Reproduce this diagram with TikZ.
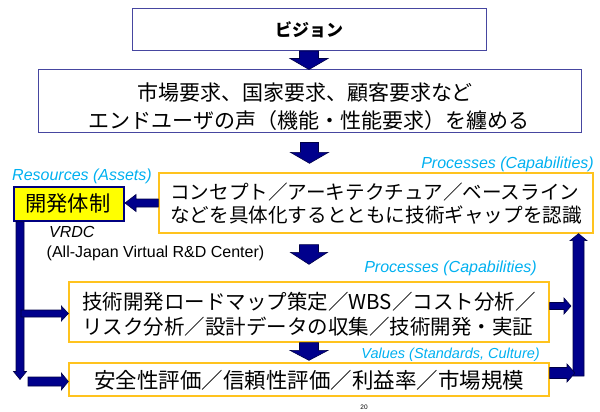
\documentclass[tikz,border=0pt]{standalone}
\usepackage{fontspec}
\setmainfont{Liberation Sans}
\newfontfamily\jp{Noto Sans CJK JP}
\usetikzlibrary{calc}
\definecolor{navyfill}{RGB}{0,0,140}
\definecolor{navyline}{RGB}{0,0,70}
\definecolor{boxblue}{RGB}{70,70,160}
\definecolor{goldline}{RGB}{255,195,30}
\definecolor{skyblue}{RGB}{0,176,240}
\definecolor{yboxfill}{RGB}{255,255,0}
\definecolor{yboxline}{RGB}{0,0,128}
\tikzset{
  blockarrow/.style={fill=navyfill,draw=navyline,line width=0.6pt,line join=miter},
  bluebox/.style={draw=boxblue,line width=1pt,fill=white,inner sep=0pt},
  goldbox/.style={draw=goldline,line width=1.3pt,fill=white,inner sep=0pt},
  ylwbox/.style={draw=yboxline,fill=yboxfill,line width=2pt,inner sep=0pt},
  jptext/.style={inner sep=0pt,font=\jp},
  cyanlabel/.style={inner sep=0pt,text=skyblue,font=\fontsize{16pt}{16pt}\selectfont\itshape},
}
\newcommand\blkdown[5]{\filldraw[blockarrow] let \p1=#1, \p2=#2 in
  (\x1-#3,\y1) -- (\x1-#3,\y2+#5) -- (\x1-#4,\y2+#5) -- (\x1,\y2) -- (\x1+#4,\y2+#5) -- (\x1+#3,\y2+#5) -- (\x1+#3,\y1) -- cycle;}
\newcommand\blkup[5]{\filldraw[blockarrow] let \p1=#1, \p2=#2 in
  (\x1-#3,\y1) -- (\x1-#3,\y2-#5) -- (\x1-#4,\y2-#5) -- (\x1,\y2) -- (\x1+#4,\y2-#5) -- (\x1+#3,\y2-#5) -- (\x1+#3,\y1) -- cycle;}
\newcommand\blkright[5]{\filldraw[blockarrow] let \p1=#1, \p2=#2 in
  (\x1,\y1+#3) -- (\x2-#5,\y1+#3) -- (\x2-#5,\y1+#4) -- (\x2,\y1) -- (\x2-#5,\y1-#4) -- (\x2-#5,\y1-#3) -- (\x1,\y1-#3) -- cycle;}
\newcommand\blkleft[5]{\filldraw[blockarrow] let \p1=#1, \p2=#2 in
  (\x1,\y1+#3) -- (\x2+#5,\y1+#3) -- (\x2+#5,\y1+#4) -- (\x2,\y1) -- (\x2+#5,\y1-#4) -- (\x2+#5,\y1-#3) -- (\x1,\y1-#3) -- cycle;}
\begin{document}
\begin{tikzpicture}[x=1pt,y=-1pt]
\useasboundingbox (0,0) rectangle (600,412);
% boxes
\node[bluebox,minimum width=354pt,minimum height=42pt] (b1) at (309,29.5) {};
\node[bluebox,minimum width=543pt,minimum height=62pt] (b2) at (309.5,101) {};
\node[goldbox,minimum width=434pt,minimum height=60pt] (b3) at (376,203) {};
\node[ylwbox,minimum width=110pt,minimum height=34pt] (yb) at (69,203.7) {};
\node[goldbox,minimum width=480pt,minimum height=60pt] (b4) at (309,312) {};
\node[goldbox,minimum width=480pt,minimum height=33pt] (b5) at (309,379.5) {};
\coordinate (rb) at (578.5,376);
% texts
\node[jptext,font=\jp\bfseries\fontsize{17pt}{17pt}\selectfont] (t1) at (309,30) {ビジョン};
\node[jptext,font=\jp\fontsize{21pt}{21pt}\selectfont] (t2a) at (305,93) {市場要求、国家要求、顧客要求など};
\node[jptext,font=\jp\fontsize{21pt}{21pt}\selectfont] (t2b) at (309,121) {エンドユーザの声（機能・性能要求）を纏める};
\node[jptext,anchor=west,font=\jp\fontsize{19.6pt}{19.6pt}\selectfont] (t3a) at (170,192.5) {コンセプト／アーキテクチュア／ベースライン};
\node[jptext,anchor=west,font=\jp\fontsize{19.6pt}{19.6pt}\selectfont] (t3b) at (170,215.5) {などを具体化するとともに技術ギャップを認識};
\node[jptext,font=\jp\fontsize{21.3pt}{21.3pt}\selectfont] (ty) at (68,203.5) {開発体制};
\node[jptext,anchor=west,font=\jp\fontsize{20.5pt}{20.5pt}\selectfont] (t4a) at (82,301.3) {技術開発ロードマップ策定／WBS／コスト分析／};
\node[jptext,anchor=west,font=\jp\fontsize{20.5pt}{20.5pt}\selectfont] (t4b) at (82,326.5) {リスク分析／設計データの収集／技術開発・実証};
\node[jptext,font=\jp\fontsize{21.5pt}{21.5pt}\selectfont] (t5) at (309,380.3) {安全性評価／信頼性評価／利益率／市場規模};
% labels
\node[cyanlabel,anchor=base west] (lr) at (12,180.7) {Resources (Assets)};
\node[cyanlabel,anchor=base east] (lp1) at (594,168.3) {Processes (Capabilities)};
\node[cyanlabel,anchor=base east] (lp2) at (537,272.3) {Processes (Capabilities)};
\node[cyanlabel,anchor=base east,font=\fontsize{14.5pt}{14.5pt}\selectfont\itshape] (lv) at (540,358.3) {Values (Standards, Culture)};
\node[inner sep=0pt,anchor=base west,font=\fontsize{16pt}{16pt}\selectfont\itshape] (lvrdc) at (49,237.3) {VRDC};
\node[inner sep=0pt,anchor=base west,font=\fontsize{16pt}{16pt}\selectfont] (lall) at (46.5,257.3) {(All-Japan Virtual R\&D Center)};
\node[inner sep=0pt,font=\fontsize{6.5pt}{6.5pt}\selectfont] (pg) at (364,407) {20};
% vertical flow arrows
\blkdown{(b1.south)}{(b2.north)}{9.5pt}{19pt}{11pt}
\blkdown{($(b2.south)+(0,10)$)}{($(b3.north)+(0,-9)$)}{9pt}{19pt}{11pt}
\blkdown{($(b4.north |- b3.south)+(0,11)$)}{($(b4.north)+(0,-17)$)}{9.5pt}{18.5pt}{12pt}
\blkdown{(b4.south)}{($(b5.north)+(0,-2)$)}{9.5pt}{19pt}{10pt}
% left side
\blkleft{(b3.west)}{(yb.east)}{4pt}{8.5pt}{11pt}
\blkdown{($(yb.south west)+(7,0)$)}{(b5.west)}{4pt}{6.5pt}{8pt}
\blkright{($(yb.south west |- b4.west)+(8,1.5)$)}{(b4.west)}{3.5pt}{7.5pt}{7pt}
\blkright{($(yb.south west |- b5.west)+(15,2)$)}{(b5.west)}{4.5pt}{8.5pt}{7pt}
% right side
\blkup{(rb)}{(b3.south -| rb)}{5.5pt}{8.5pt}{7pt}
\blkright{($(b4.east)+(0,-6)$)}{($(rb)+(-7.5,0)$)}{3.5pt}{8pt}{7pt}
\blkright{($(b5.east)+(0,-6.5)$)}{($(rb)+(-3.5,0)$)}{5.5pt}{9pt}{8pt}
\end{tikzpicture}
\end{document}
